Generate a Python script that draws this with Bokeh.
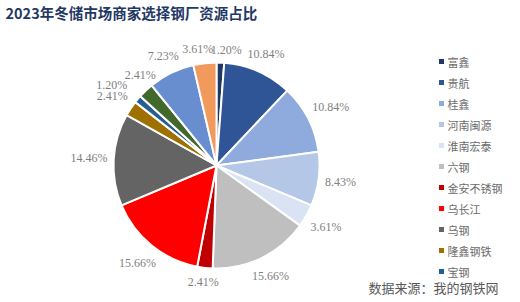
import math
from bokeh.plotting import figure
from bokeh.models import Range1d, ColumnDataSource
from bokeh.core.properties import value
from bokeh.embed import file_html
from bokeh.resources import INLINE

title = "2023年冬储市场商家选择钢厂资源占比"
source_note = "数据来源：我的钢铁网"

# slices in clockwise order from 12 o'clock
names = ["富鑫", "贵航", "桂鑫", "河南闽源", "淮南宏泰", "六钢", "金安不锈钢",
         "乌长江", "乌钢", "隆鑫钢铁", "宝钢", "其他1", "其他2", "其他3"]
shares = [1.20, 10.84, 10.84, 8.43, 3.61, 15.66, 2.41,
          15.66, 14.46, 2.41, 1.20, 2.41, 7.23, 3.61]
colors = ["#203864", "#2F5597", "#8FAADC", "#B4C7E7", "#DAE3F3", "#BFBFBF", "#C00000",
          "#FF0000", "#646464", "#9E7000", "#255E91", "#43682B", "#698ED0", "#F2995C"]
legend_count = 11  # only first 11 visible in legend

W, H = 520, 302
cx, cy, R = 216, H - 165, 103

total = sum(shares)
starts, ends, lx, ly, lw, labels = [], [], [], [], [], []
cum = 0.0
for s in shares:
    a0 = math.pi / 2 - cum / total * 2 * math.pi
    cum += s
    a1 = math.pi / 2 - cum / total * 2 * math.pi
    starts.append(a0)
    ends.append(a1)
    mid = (a0 + a1) / 2
    txt = f"{s:.2f}%"
    w = 6.1 * len(txt)
    h = 13
    r = R + 6 + (w / 2) * abs(math.cos(mid)) + (h / 2) * abs(math.sin(mid))
    lx.append(cx + r * math.cos(mid))
    ly.append(cy + r * math.sin(mid))
    lw.append(w)
    labels.append(txt)

# resolve overlapping labels by pushing them apart horizontally
for _ in range(20):
    for i in range(len(labels)):
        for j in range(i + 1, len(labels)):
            if abs(ly[i] - ly[j]) < 10:
                need = (lw[i] + lw[j]) / 2 - 2
                d = lx[j] - lx[i]
                if abs(d) < need:
                    push = (need - abs(d)) / 2
                    sgn = 1 if d >= 0 else -1
                    lx[i] -= sgn * push
                    lx[j] += sgn * push

p = figure(width=W, height=H, x_range=Range1d(0, W), y_range=Range1d(0, H),
           output_backend="svg", toolbar_location=None, min_border=0)
p.axis.visible = False
p.grid.visible = False
p.outline_line_color = None
p.background_fill_color = "white"
p.border_fill_color = "white"

src = ColumnDataSource(dict(start=starts, end=ends, color=colors))
p.wedge(x=cx, y=cy, radius=R, start_angle="start", end_angle="end",
        direction="clock", fill_color="color", line_color="white", line_width=2,
        source=src)

p.text(x=lx, y=ly, text=labels, text_font=value("Liberation Serif"),
       text_font_size="12px", text_color="#7F7F7F",
       text_align="center", text_baseline="middle")

# legend
leg_y = [H - (61 + 21 * i) for i in range(legend_count)]
p.scatter(x=[441] * legend_count, y=leg_y, marker="square", size=5,
          color=colors[:legend_count], line_color=None)
p.text(x=[447] * legend_count, y=leg_y, text=names[:legend_count],
       text_font=value("Noto Sans CJK SC"), text_font_size="11px",
       text_color="#6B6B6B", text_baseline="middle")

# title
p.text(x=[5], y=[H - 12], text=[title], text_font=value("Noto Sans CJK SC"),
       text_font_size="14.5px", text_font_style="bold", text_color="#1F3864",
       text_baseline="middle")

# source
p.text(x=[498], y=[H - 287], text=[source_note], text_font=value("Noto Sans CJK SC"),
       text_font_size="13px", text_color="#595959", text_align="right",
       text_baseline="middle")

open("out.html", "w").write(file_html(p, INLINE))
